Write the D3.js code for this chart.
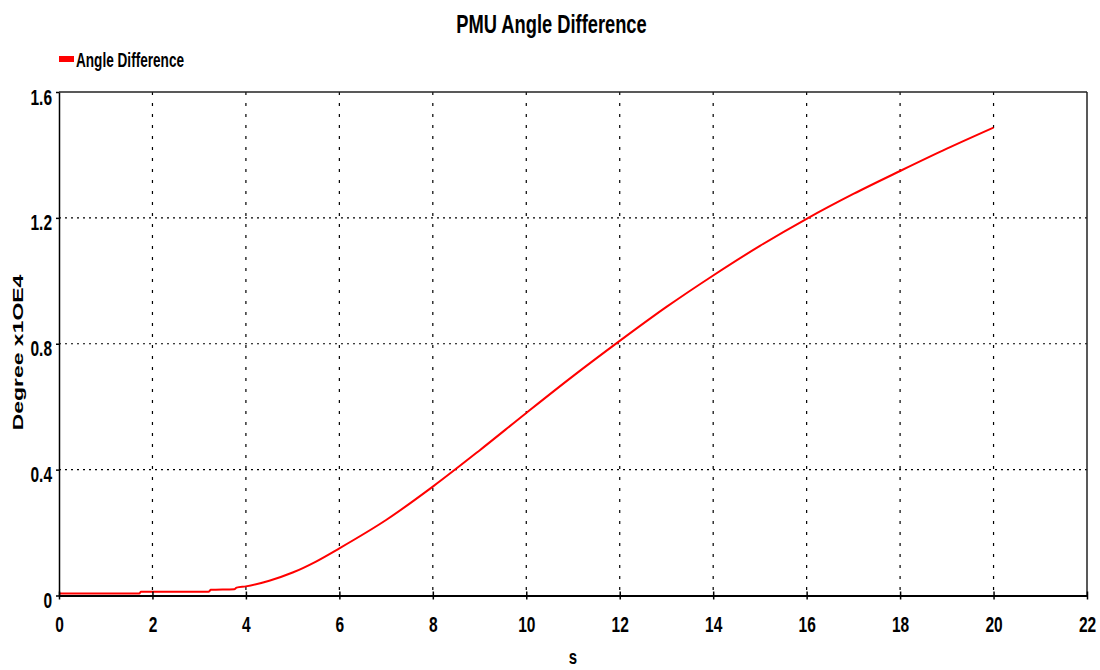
<!DOCTYPE html>
<html>
<head>
<meta charset="utf-8">
<script src="https://cdn.jsdelivr.net/npm/d3@7"></script>
<style>
  html, body { margin: 0; padding: 0; background: #fff; }
  svg { display: block; }
</style>
</head>
<body>
<svg id="chart" width="1100" height="670"></svg>
<script>
// Simulation output: angle difference between two PMUs (Degree x1OE4) over time (s)
const timeS = [0, 1.72, 1.75, 3.2, 3.25, 3.75, 3.8, 4, 4.5, 5, 5.5, 6, 7, 8, 9, 10, 11, 12, 13, 14, 15, 16, 17, 18, 19, 20];
const angleDiff = [0.006, 0.006, 0.012, 0.012, 0.018, 0.02, 0.025, 0.029, 0.047, 0.073, 0.108, 0.150, 0.240, 0.346, 0.461, 0.580, 0.697, 0.809, 0.917, 1.017, 1.111, 1.197, 1.276, 1.349, 1.420, 1.487];
const xTicks = [0, 2, 4, 6, 8, 10, 12, 14, 16, 18, 20, 22];
const yTicks = [0, 0.4, 0.8, 1.2, 1.6];
const yTickLabels = ["0", "0.4", "0.8", "1.2", "1.6"];

const svg = d3.select("#chart");
const plotL = 59, plotR = 1087, plotT = 92, plotB = 595.5;
const fontFam = "'Liberation Sans', Arial, sans-serif";
const stretch = 1.4;

const x = d3.scaleLinear().domain([0, 22]).range([plotL, plotR]);
const y = d3.scaleLinear().domain([0, 1.6]).range([plotB, plotT]);

// grid
const grid = svg.append("g");
grid.selectAll("line.v").data(xTicks.filter(d => d > 0 && d < 22)).join("line")
  .attr("class", "v")
  .attr("x1", d => x(d)).attr("x2", d => x(d))
  .attr("y1", plotT).attr("y2", plotB)
  .attr("stroke", "#000").attr("stroke-width", 1.2)
  .attr("stroke-dasharray", "3,8");
grid.selectAll("line.h").data(yTicks.filter(d => d > 0 && d < 1.6)).join("line")
  .attr("class", "h")
  .attr("x1", plotL).attr("x2", plotR)
  .attr("y1", d => y(d)).attr("y2", d => y(d))
  .attr("stroke", "#000").attr("stroke-width", 1.2)
  .attr("stroke-dasharray", "2,4");

// frame top / right
svg.append("line").attr("x1", plotL).attr("x2", plotR).attr("y1", plotT).attr("y2", plotT)
  .attr("stroke", "#222").attr("stroke-width", 1.5);
svg.append("line").attr("x1", plotR).attr("x2", plotR).attr("y1", plotT).attr("y2", plotB)
  .attr("stroke", "#222").attr("stroke-width", 1.5);

// series
const pts = timeS.map((t, i) => [t, angleDiff[i]]);
svg.append("path").datum(pts)
  .attr("fill", "none").attr("stroke", "#ff0000").attr("stroke-width", 2)
  .attr("d", d3.line().x(d => x(d[0])).y(d => y(d[1])).curve(d3.curveMonotoneX));

// x axis
const xAxis = svg.append("g").attr("transform", `translate(0,${plotB})`)
  .call(d3.axisBottom(x).tickValues(xTicks).tickFormat(d3.format("d")).tickSize(4).tickSizeOuter(0));
xAxis.select(".domain").attr("stroke", "#000").attr("stroke-width", 2);
xAxis.selectAll(".tick line").attr("stroke", "#000").attr("stroke-width", 1.5).attr("y1", -4);
xAxis.selectAll(".tick text")
  .attr("y", 36.5 / stretch).attr("dy", null)
  .attr("transform", `scale(1,${stretch})`)
  .attr("font-family", fontFam).attr("font-weight", "bold").attr("font-size", 15.5)
  .attr("fill", "#000");

// y axis
const yAxis = svg.append("g").attr("transform", `translate(${plotL},0)`)
  .call(d3.axisLeft(y).tickValues(yTicks).tickFormat((d, i) => yTickLabels[i]).tickSize(3).tickSizeOuter(0));
yAxis.select(".domain").attr("stroke", "#000").attr("stroke-width", 1.5);
yAxis.selectAll(".tick line").attr("stroke", "#000").attr("stroke-width", 1.5);
yAxis.selectAll(".tick text")
  .attr("x", -7).attr("dy", null)
  .attr("y", 0)
  .attr("transform", `translate(0,12) scale(1,${stretch})`)
  .attr("font-family", fontFam).attr("font-weight", "bold").attr("font-size", 15.5)
  .attr("fill", "#000");

// title
svg.append("text")
  .attr("transform", `translate(551.5,33) scale(1,${stretch})`)
  .attr("text-anchor", "middle")
  .attr("font-family", fontFam).attr("font-weight", "bold").attr("font-size", 18.3)
  .attr("fill", "#000").text("PMU Angle Difference");

// legend
svg.append("rect").attr("x", 59).attr("y", 56).attr("width", 15).attr("height", 6).attr("fill", "#ff0000");
svg.append("text")
  .attr("transform", `translate(76,67) scale(1,1.5)`)
  .attr("font-family", fontFam).attr("font-weight", "bold").attr("font-size", 13.6)
  .attr("fill", "#000").text("Angle Difference");

// axis titles
svg.append("text")
  .attr("transform", `translate(23,352.5) rotate(-90) scale(1.64,1)`)
  .attr("text-anchor", "middle")
  .attr("font-family", fontFam).attr("font-weight", "bold").attr("font-size", 14)
  .attr("fill", "#000").text("Degree x1OE4");
svg.append("text")
  .attr("transform", `translate(573,664) scale(1,1.3)`)
  .attr("text-anchor", "middle")
  .attr("font-family", fontFam).attr("font-weight", "bold").attr("font-size", 15)
  .attr("fill", "#000").text("s");
</script>
</body>
</html>
